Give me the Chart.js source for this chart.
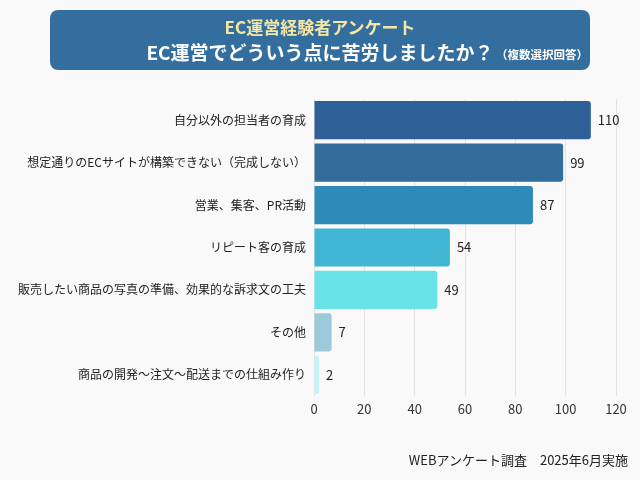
<!DOCTYPE html>
<html>
<head>
<meta charset="utf-8">
<script src="https://cdn.jsdelivr.net/npm/chart.js@4"></script>
<style>
  body { margin: 0; background: #f9f9f9; font-family: "Noto Sans CJK JP", "Noto Sans", sans-serif; }
  #wrap { position: relative; width: 640px; height: 480px; overflow: hidden; background: #f9f9f9; }
  #head { position: absolute; left: 50px; top: 10px; width: 540px; height: 60px; background: #336e9e; border-radius: 8px; }
  #t1 { position: absolute; left: 0; width: 540px; top: 5px; text-align: center; color: #f5e7a3; font-weight: bold; font-size: 17px; line-height: 24px; }
  #t2 { position: absolute; left: 0; width: 540px; top: 29px; text-align: center; color: #fff; font-weight: bold; font-size: 19px; line-height: 26px; }
  #note { position: absolute; left: 446px; top: 36px; color: #fff; font-weight: bold; font-size: 11.5px; line-height: 16px; }
  #foot { position: absolute; right: 12px; top: 450px; color: #222; font-size: 13px; }
  canvas { position: absolute; left: 0; top: 0; }
</style>
</head>
<body>
<div id="wrap">
  <canvas id="chart" width="640" height="480"></canvas>
  <div id="head">
    <div id="t1">EC運営経験者アンケート</div>
    <div id="t2">EC運営でどういう点に苦労しましたか？</div>
    <div id="note">（複数選択回答）</div>
  </div>
  <div id="foot">WEBアンケート調査　2025年6月実施</div>
</div>
<script>
const categories = [
  "自分以外の担当者の育成",
  "想定通りのECサイトが構築できない（完成しない）",
  "営業、集客、PR活動",
  "リピート客の育成",
  "販売したい商品の写真の準備、効果的な訴求文の工夫",
  "その他",
  "商品の開発～注文～配送までの仕組み作り"
];
const counts = [110, 99, 87, 54, 49, 7, 2];
const barColors = ["#2e5f96", "#336d9c", "#2e8bb9", "#41b6d4", "#6ae3e6", "#9dcadb", "#c5f2f8"];
const xTicks = [0, 20, 40, 60, 80, 100, 120];

const valueLabels = {
  id: "valueLabels",
  afterDatasetsDraw(chart) {
    const ctx = chart.ctx;
    const meta = chart.getDatasetMeta(0);
    ctx.save();
    ctx.font = "13px 'Noto Sans CJK JP', 'Noto Sans', sans-serif";
    ctx.fillStyle = "#222";
    ctx.textBaseline = "middle";
    ctx.textAlign = "left";
    meta.data.forEach((bar, i) => {
      ctx.fillText(String(counts[i]), bar.x + 7, bar.y);
    });
    ctx.restore();
  }
};

new Chart(document.getElementById("chart"), {
  type: "bar",
  data: {
    labels: categories,
    datasets: [{
      data: counts,
      backgroundColor: barColors,
      borderRadius: 3,
      borderSkipped: "start",
      categoryPercentage: 0.9,
      barPercentage: 1
    }]
  },
  options: {
    indexAxis: "y",
    responsive: false,
    animation: false,
    layout: { padding: { left: 0, right: 24, top: 99, bottom: 62 } },
    plugins: { legend: { display: false }, tooltip: { enabled: false } },
    scales: {
      x: {
        min: 0,
        max: 120,
        afterBuildTicks(scale) { scale.ticks = xTicks.map(v => ({ value: v })); },
        afterFit(scale) { scale.height = 22; },
        grid: { color: "#e2e2e2", drawTicks: false },
        border: { display: false },
        ticks: { color: "#333", padding: 5, font: { size: 13, family: "'Noto Sans CJK JP', 'Noto Sans', sans-serif" } }
      },
      y: {
        afterFit(scale) { scale.width = 314; },
        grid: { display: false, drawTicks: false },
        border: { display: false },
        ticks: { color: "#222", padding: 8, font: { size: 12, family: "'Noto Sans CJK JP', 'Noto Sans', sans-serif" } }
      }
    }
  },
  plugins: [valueLabels]
});
</script>
</body>
</html>
